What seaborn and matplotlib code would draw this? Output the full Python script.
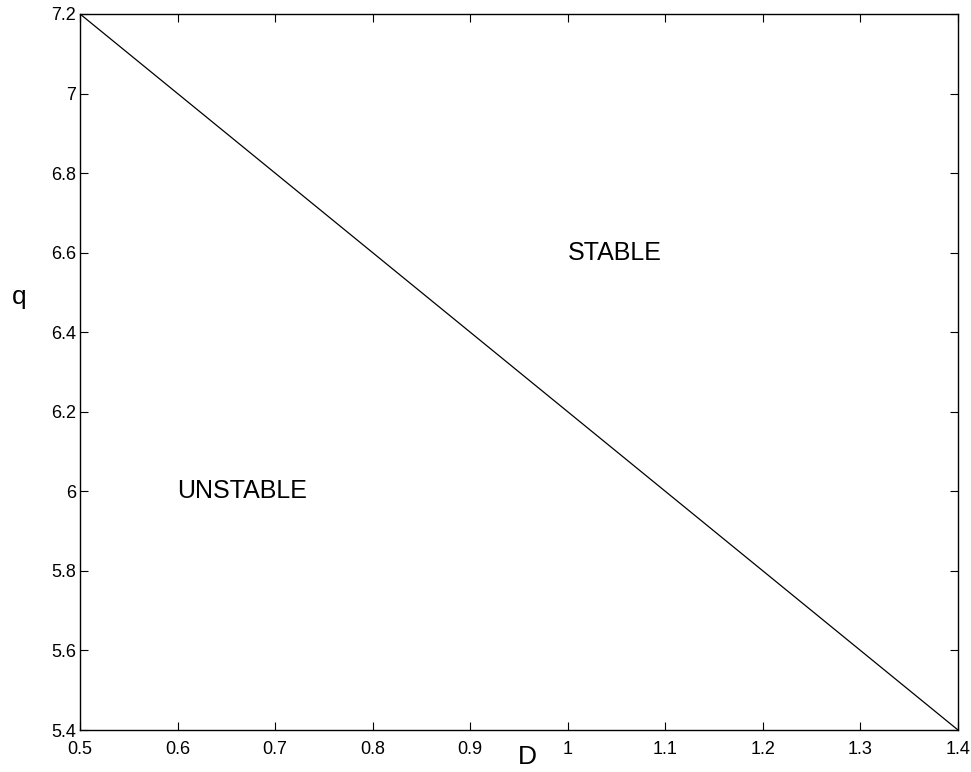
import matplotlib
matplotlib.use("Agg")
import matplotlib.pyplot as plt
import seaborn as sns
import pandas as pd

# Stability boundary in the (D, q) plane
D_values = [0.5, 1.4]
q_values = [7.2, 5.4]

x_ticks = [0.5, 0.6, 0.7, 0.8, 0.9, 1.0, 1.1, 1.2, 1.3, 1.4]
x_tick_labels = ["0.5", "0.6", "0.7", "0.8", "0.9", "1", "1.1", "1.2", "1.3", "1.4"]
y_ticks = [5.4, 5.6, 5.8, 6.0, 6.2, 6.4, 6.6, 6.8, 7.0, 7.2]
y_tick_labels = ["5.4", "5.6", "5.8", "6", "6.2", "6.4", "6.6", "6.8", "7", "7.2"]

region_labels = ["STABLE", "UNSTABLE"]
region_D = [1.0, 0.6]
region_q = [6.6, 6.0]

sns.set_theme(style="white")
plt.rcParams["font.family"] = ["Liberation Sans", "DejaVu Sans"]

df = pd.DataFrame({"D": D_values, "q": q_values})

fig = plt.figure(figsize=(9.71, 7.72), dpi=100)
ax = fig.add_axes([0.0824, 0.0544, 0.9042, 0.9275])

sns.lineplot(data=df, x="D", y="q", ax=ax, color="black", linewidth=0.9)

ax.set_xlim(0.5, 1.4)
ax.set_ylim(5.4, 7.2)
ax.set_xticks(x_ticks)
ax.set_xticklabels(x_tick_labels)
ax.set_yticks(y_ticks)
ax.set_yticklabels(y_tick_labels)
ax.tick_params(direction="in", length=6, width=0.8, colors="black",
               labelsize=13, top=True, right=True, bottom=True, left=True)
ax.tick_params(axis="x", pad=8)
ax.tick_params(axis="y", pad=3)

for spine in ax.spines.values():
    spine.set_visible(True)
    spine.set_color("black")
    spine.set_linewidth(1.0)

for label, xd, yq in zip(region_labels, region_D, region_q):
    ax.text(xd, yq, label, ha="left", va="center", fontsize=18, color="black")

ax.set_xlabel("D", fontsize=19, color="black")
ax.set_ylabel("q", fontsize=19, color="black", rotation=0)
ax.xaxis.set_label_coords(0.509, -0.038)
ax.xaxis.label.set_va("center")
ax.yaxis.set_label_coords(-0.0695, 0.605)
ax.yaxis.label.set_va("center")
ax.yaxis.label.set_ha("center")

ax.grid(False)
fig.savefig("out.png", dpi=100, facecolor="white")
